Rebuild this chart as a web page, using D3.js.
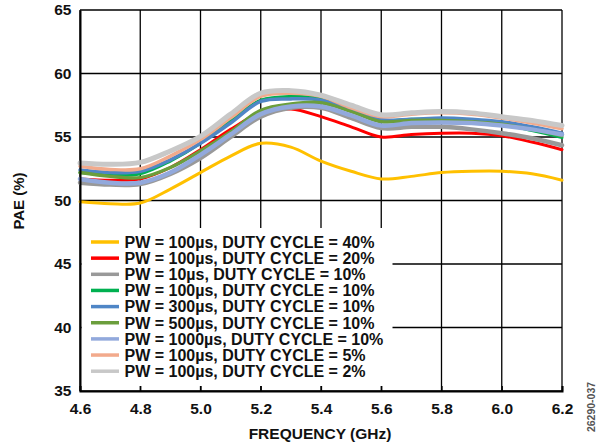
<!DOCTYPE html>
<html>
<head>
<meta charset="utf-8">
<script src="https://cdn.jsdelivr.net/npm/d3@7"></script>
<style>
  html, body { margin: 0; padding: 0; background: #fff; }
  svg { display: block; }
  text { font-family: Arial, "Liberation Sans", Helvetica, sans-serif; font-weight: bold; fill: #111; }
</style>
</head>
<body>
<svg id="chart" width="600" height="446"></svg>
<script>
// Frequency sweep points (GHz)
const freq = [4.6, 4.7, 4.8, 4.9, 5.0, 5.1, 5.2, 5.3, 5.4, 5.5, 5.6, 5.7, 5.8, 5.9, 6.0, 6.1, 6.2];

// PAE (%) for each pulse condition
const pae40 = [49.9, 49.75, 49.8, 50.9, 52.2, 53.5, 54.5, 54.2, 53.1, 52.3, 51.7, 51.9, 52.2, 52.3, 52.3, 52.1, 51.6];
const pae20 = [51.7, 51.6, 51.7, 52.6, 54.0, 55.6, 56.9, 57.2, 56.6, 55.8, 55.0, 55.2, 55.3, 55.3, 55.1, 54.6, 54.0];
const pw10 = [51.4, 51.25, 51.3, 52.1, 53.35, 55.0, 56.6, 57.3, 57.3, 56.5, 55.7, 55.8, 55.8, 55.6, 55.3, 54.9, 54.35];
const pw100 = [52.2, 52.0, 52.1, 53.1, 54.5, 56.3, 57.9, 58.2, 58.0, 57.1, 56.3, 56.4, 56.4, 56.3, 56.0, 55.5, 54.95];
const pw300 = [52.4, 52.2, 52.3, 53.2, 54.5, 56.1, 57.8, 58.0, 57.9, 57.1, 56.35, 56.4, 56.5, 56.4, 56.2, 55.8, 55.3];
const pw500 = [52.2, 51.9, 51.8, 52.6, 53.9, 55.4, 57.1, 57.6, 57.7, 57.0, 56.2, 56.3, 56.3, 56.2, 56.0, 55.6, 55.1];
const pw1000 = [51.7, 51.4, 51.4, 52.2, 53.6, 55.2, 56.8, 57.4, 57.4, 56.7, 55.9, 56.1, 56.15, 56.1, 55.9, 55.6, 55.2];
const pae5 = [52.7, 52.45, 52.5, 53.5, 54.8, 56.5, 58.2, 58.45, 58.2, 57.3, 56.6, 56.8, 56.9, 56.8, 56.5, 56.1, 55.65];
const pae2 = [52.95, 52.85, 53.0, 53.9, 55.05, 56.8, 58.45, 58.65, 58.3, 57.5, 56.75, 56.9, 57.0, 56.9, 56.6, 56.3, 55.9];

const seriesNames = [
  "PW = 100µs, DUTY CYCLE = 40%",
  "PW = 100µs, DUTY CYCLE = 20%",
  "PW = 10µs, DUTY CYCLE = 10%",
  "PW = 100µs, DUTY CYCLE = 10%",
  "PW = 300µs, DUTY CYCLE = 10%",
  "PW = 500µs, DUTY CYCLE = 10%",
  "PW = 1000µs, DUTY CYCLE = 10%",
  "PW = 100µs, DUTY CYCLE = 5%",
  "PW = 100µs, DUTY CYCLE = 2%"
];
const seriesValues = [pae40, pae20, pw10, pw100, pw300, pw500, pw1000, pae5, pae2];
const seriesColors = ["#FFC000", "#FF0000", "#999999", "#00B050", "#4F86C6", "#6B9E3C", "#92A9DC", "#F2AA8C", "#C8C8C8"];
const seriesWidths = [3, 3, 4.5, 3, 3.5, 3.5, 4.5, 3.5, 5];

const xTicks = [4.6, 4.8, 5.0, 5.2, 5.4, 5.6, 5.8, 6.0, 6.2];
const yTicks = [35, 40, 45, 50, 55, 60, 65];

const svg = d3.select("#chart");
const plotL = 80, plotR = 562, plotT = 10, plotB = 391;
const FONT = "Arial, 'Liberation Sans', sans-serif";

const x = d3.scaleLinear().domain([4.6, 6.2]).range([plotL, plotR]);
const y = d3.scaleLinear().domain([35, 65]).range([plotB, plotT]);

// Grid lines
const grid = svg.append("g");
grid.selectAll("line.v").data(xTicks).join("line")
  .attr("class", "v")
  .attr("x1", d => x(d)).attr("x2", d => x(d))
  .attr("y1", plotT).attr("y2", plotB)
  .attr("stroke", "#000").attr("stroke-width", 1.3);
grid.selectAll("line.h").data(yTicks).join("line")
  .attr("class", "h")
  .attr("x1", plotL).attr("x2", plotR)
  .attr("y1", d => y(d)).attr("y2", d => y(d))
  .attr("stroke", "#000").attr("stroke-width", 1.3);

// Curves
const line = d3.line()
  .x((d, i) => x(freq[i]))
  .y(d => y(d))
  .curve(d3.curveCatmullRom.alpha(0.5));

svg.append("g").selectAll("path").data(seriesValues).join("path")
  .attr("d", d => line(d))
  .attr("fill", "none")
  .attr("stroke", (d, i) => seriesColors[i])
  .attr("stroke-width", (d, i) => seriesWidths[i])
  .attr("stroke-linejoin", "round")
  .attr("stroke-linecap", "round");

// Legend with opaque background
const lg = svg.append("g");
lg.append("rect")
  .attr("x", plotL + 1.5).attr("y", 228)
  .attr("width", 311).attr("height", 158)
  .attr("fill", "#fff");
const rowY = i => 242 + i * 16.15;
lg.selectAll("line").data(seriesNames).join("line")
  .attr("x1", 91).attr("x2", 119)
  .attr("y1", (d, i) => rowY(i)).attr("y2", (d, i) => rowY(i))
  .attr("stroke", (d, i) => seriesColors[i])
  .attr("stroke-width", 3.5);
lg.selectAll("text").data(seriesNames).join("text")
  .attr("x", 124.5).attr("y", (d, i) => rowY(i))
  .attr("dy", "0.36em")
  .attr("font-size", 16)
  .text(d => d);

// Axes
const xAxis = d3.axisBottom(x).tickValues(xTicks).tickFormat(d3.format(".1f")).tickSize(-5).tickPadding(12);
const yAxis = d3.axisLeft(y).tickValues(yTicks).tickSize(0).tickPadding(8.5);

const gx = svg.append("g").attr("transform", `translate(0,${plotB})`).call(xAxis);
gx.select(".domain").attr("stroke", "#000").attr("stroke-width", 2);
gx.selectAll(".tick line").attr("stroke", "#000").attr("stroke-width", 1.3);
gx.selectAll(".tick text").attr("font-size", 15.5).attr("font-weight", "bold").attr("fill", "#111")
  .attr("font-family", FONT);

const gy = svg.append("g").attr("transform", `translate(${plotL},0)`).call(yAxis);
gy.select(".domain").attr("stroke", "#000").attr("stroke-width", 2);
gy.selectAll(".tick text").attr("font-size", 15.5).attr("font-weight", "bold").attr("fill", "#111")
  .attr("font-family", FONT);

// Axis titles
svg.append("text")
  .attr("x", 320).attr("y", 439)
  .attr("text-anchor", "middle")
  .attr("font-size", 15.5)
  .text("FREQUENCY (GHz)");
svg.append("text")
  .attr("transform", "translate(24,201) rotate(-90)")
  .attr("text-anchor", "middle")
  .attr("font-size", 15)
  .text("PAE (%)");

// Figure ID
svg.append("text")
  .attr("transform", "translate(595,407) rotate(-90)")
  .attr("text-anchor", "middle")
  .attr("font-size", 10.5)
  .attr("font-weight", "normal")
  .style("fill", "#555")
  .text("26290-037");
</script>
</body>
</html>
